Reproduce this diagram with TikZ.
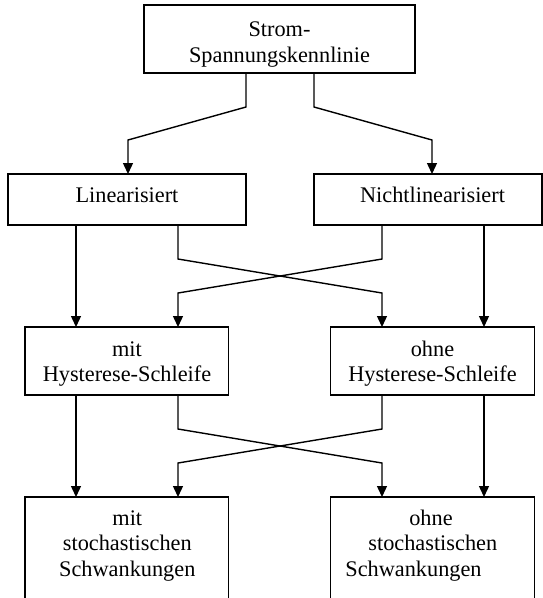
\documentclass[tikz,border=0pt]{standalone}
\usepackage{fontspec}
\setmainfont{Liberation Serif}
\usetikzlibrary{arrows.meta}
\begin{document}
\begin{tikzpicture}[x=1pt,y=-1pt,
  box/.style={draw=black, line width=1.4pt, rectangle, inner sep=0pt, outer sep=0pt},
  lbl/.style={anchor=base, inner sep=0pt, font=\fontsize{22.3}{25}\selectfont},
  arr/.style={draw=black, line width=1.4pt, -{Triangle[width=10pt,length=11pt]}}]
\useasboundingbox (0,0) rectangle (543,598);
\clip (0,0) rectangle (543,598);
% boxes
\node[box, minimum width=271pt, minimum height=68pt] (top) at (279.5,39) {};
\node[box, minimum width=238pt, minimum height=51pt] (lin) at (127,199.5) {};
\node[box, minimum width=228pt, minimum height=51pt] (nlin) at (428,199.5) {};
\node[box, minimum width=203.5pt, minimum height=68pt] (mh) at (126.75,361) {};
\node[box, minimum width=203.5pt, minimum height=68pt] (oh) at (432.5,361) {};
\node[box, minimum width=203.5pt, minimum height=150pt] (ms) at (126.75,572) {};
\node[box, minimum width=203.5pt, minimum height=150pt] (os) at (432.5,572) {};
% labels
\node[lbl] (t1) at (279.5,36.7) {Strom-};
\node[lbl] (t2) at (279.5,62) {Spannungskennlinie};
\node[lbl] (t3) at (127,202.7) {Linearisiert};
\node[lbl] (t4) at (432.5,202.7) {Nichtlinearisiert};
\node[lbl] (t5) at (127,356.7) {mit};
\node[lbl] (t6) at (127,381.7) {Hysterese-Schleife};
\node[lbl] (t7) at (432.5,356.7) {ohne};
\node[lbl] (t8) at (432.5,381.7) {Hysterese-Schleife};
\node[lbl] (t9) at (127.3,525) {mit};
\node[lbl] (t10) at (127.3,550) {stochastischen};
\node[lbl] (t11) at (127.3,576) {Schwankungen};
\node[lbl] (t12) at (431,525) {ohne};
\node[lbl] (t13) at (432.8,550) {stochastischen};
\node[lbl] (t14) at (413.5,576) {Schwankungen};
% bend coordinates
\coordinate (a1) at (246,107); \coordinate (a2) at (128,140);
\coordinate (b1) at (314,107); \coordinate (b2) at (432,140);
\coordinate (c0) at (76,0);
\coordinate (c1) at (178,259); \coordinate (c2) at (382,293);
\coordinate (d1) at (382,259); \coordinate (d2) at (178,293);
\coordinate (e0) at (484,0);
\coordinate (f1) at (178,429); \coordinate (f2) at (382,463);
\coordinate (g1) at (382,429); \coordinate (g2) at (178,463);
% connectors
\draw[arr] (top.south -| a1) -- (a1) -- (a2) -- (lin.north -| a2);
\draw[arr] (top.south -| b1) -- (b1) -- (b2) -- (nlin.north -| b2);
\draw[arr] (lin.south -| c0) -- (mh.north -| c0);
\draw[arr] (lin.south -| c1) -- (c1) -- (c2) -- (oh.north -| c2);
\draw[arr] (nlin.south -| d1) -- (d1) -- (d2) -- (mh.north -| d2);
\draw[arr] (nlin.south -| e0) -- (oh.north -| e0);
\draw[arr] (mh.south -| c0) -- (ms.north -| c0);
\draw[arr] (mh.south -| f1) -- (f1) -- (f2) -- (os.north -| f2);
\draw[arr] (oh.south -| g1) -- (g1) -- (g2) -- (ms.north -| g2);
\draw[arr] (oh.south -| e0) -- (os.north -| e0);
\end{tikzpicture}
\end{document}
